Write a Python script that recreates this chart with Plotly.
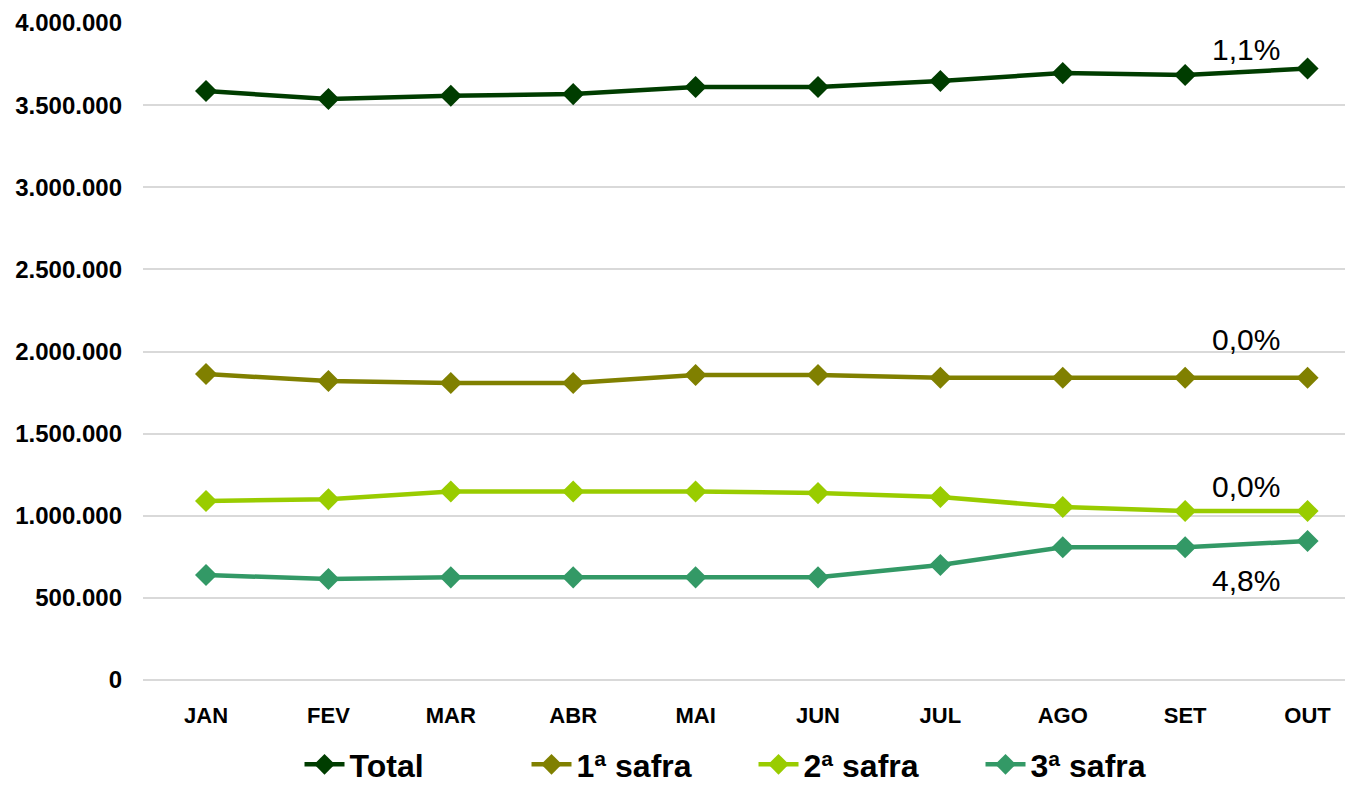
import plotly.graph_objects as go

months = ["JAN", "FEV", "MAR", "ABR", "MAI", "JUN", "JUL", "AGO", "SET", "OUT"]
total = [3586000, 3537000, 3557000, 3567000, 3610000, 3610000, 3647000, 3695000, 3683000, 3723000]
safra1 = [1863000, 1820000, 1808000, 1808000, 1857000, 1857000, 1840000, 1840000, 1840000, 1840000]
safra2 = [1090000, 1100000, 1148000, 1148000, 1148000, 1138000, 1114000, 1053000, 1029000, 1029000]
safra3 = [639000, 615000, 625000, 625000, 625000, 625000, 700000, 808000, 808000, 846000]
tick_vals = [0, 500000, 1000000, 1500000, 2000000, 2500000, 3000000, 3500000, 4000000]
tick_text = ["0", "500.000", "1.000.000", "1.500.000", "2.000.000", "2.500.000",
             "3.000.000", "3.500.000", "4.000.000"]
var_labels = ["1,1%", "0,0%", "0,0%", "4,8%"]

series = [
    ("Total", total, "#003d00"),
    ("1ª safra", safra1, "#808000"),
    ("2ª safra", safra2, "#99cc00"),
    ("3ª safra", safra3, "#339966"),
]
label_shift = [22, 38, 24, -36]

fig = go.Figure()
x = list(range(len(months)))
for name, vals, col in series:
    fig.add_trace(go.Scatter(
        x=x, y=vals, name=name, mode="lines+markers",
        line=dict(color=col, width=4.5),
        marker=dict(symbol="diamond", size=17, color=col),
    ))

for (name, vals, col), lab, sh in zip(series, var_labels, label_shift):
    fig.add_annotation(
        x=8.5, y=(vals[-1] + vals[-2]) / 2, text=lab, showarrow=False,
        yshift=sh, font=dict(family="Liberation Sans, Arial", size=30, color="#000000"),
    )

fig.update_layout(
    width=1337, height=784,
    margin=dict(l=135, r=0, t=15, b=112),
    plot_bgcolor="white", paper_bgcolor="white",
    font=dict(family="Liberation Sans, Arial", color="#000000"),
    xaxis=dict(
        tickmode="array", tickvals=x, ticktext=months,
        range=[-0.515, 9.306], showgrid=False, showline=False, zeroline=False,
        tickfont=dict(size=22, family="Liberation Sans, Arial", weight="bold"),
        ticks="", ticklabelstandoff=20,
    ),
    yaxis=dict(
        range=[0, 4000000], tickmode="array", tickvals=tick_vals, ticktext=tick_text,
        showgrid=True, gridcolor="#d9d9d9", gridwidth=1.5,
        zeroline=True, zerolinecolor="#d9d9d9", zerolinewidth=1.5,
        showline=False, ticks="",
        tickfont=dict(size=24, family="Liberation Sans, Arial", weight="bold"),
        ticklabelstandoff=20,
    ),
    legend=dict(
        orientation="h", xref="container", yref="container",
        x=0.5576, xanchor="center", y=0, yanchor="bottom",
        font=dict(size=32, family="Liberation Sans, Arial", weight="bold"),
        entrywidth=172, entrywidthmode="pixels",
        itemwidth=40,
    ),
    showlegend=True,
)

fig.write_html("out.html")
